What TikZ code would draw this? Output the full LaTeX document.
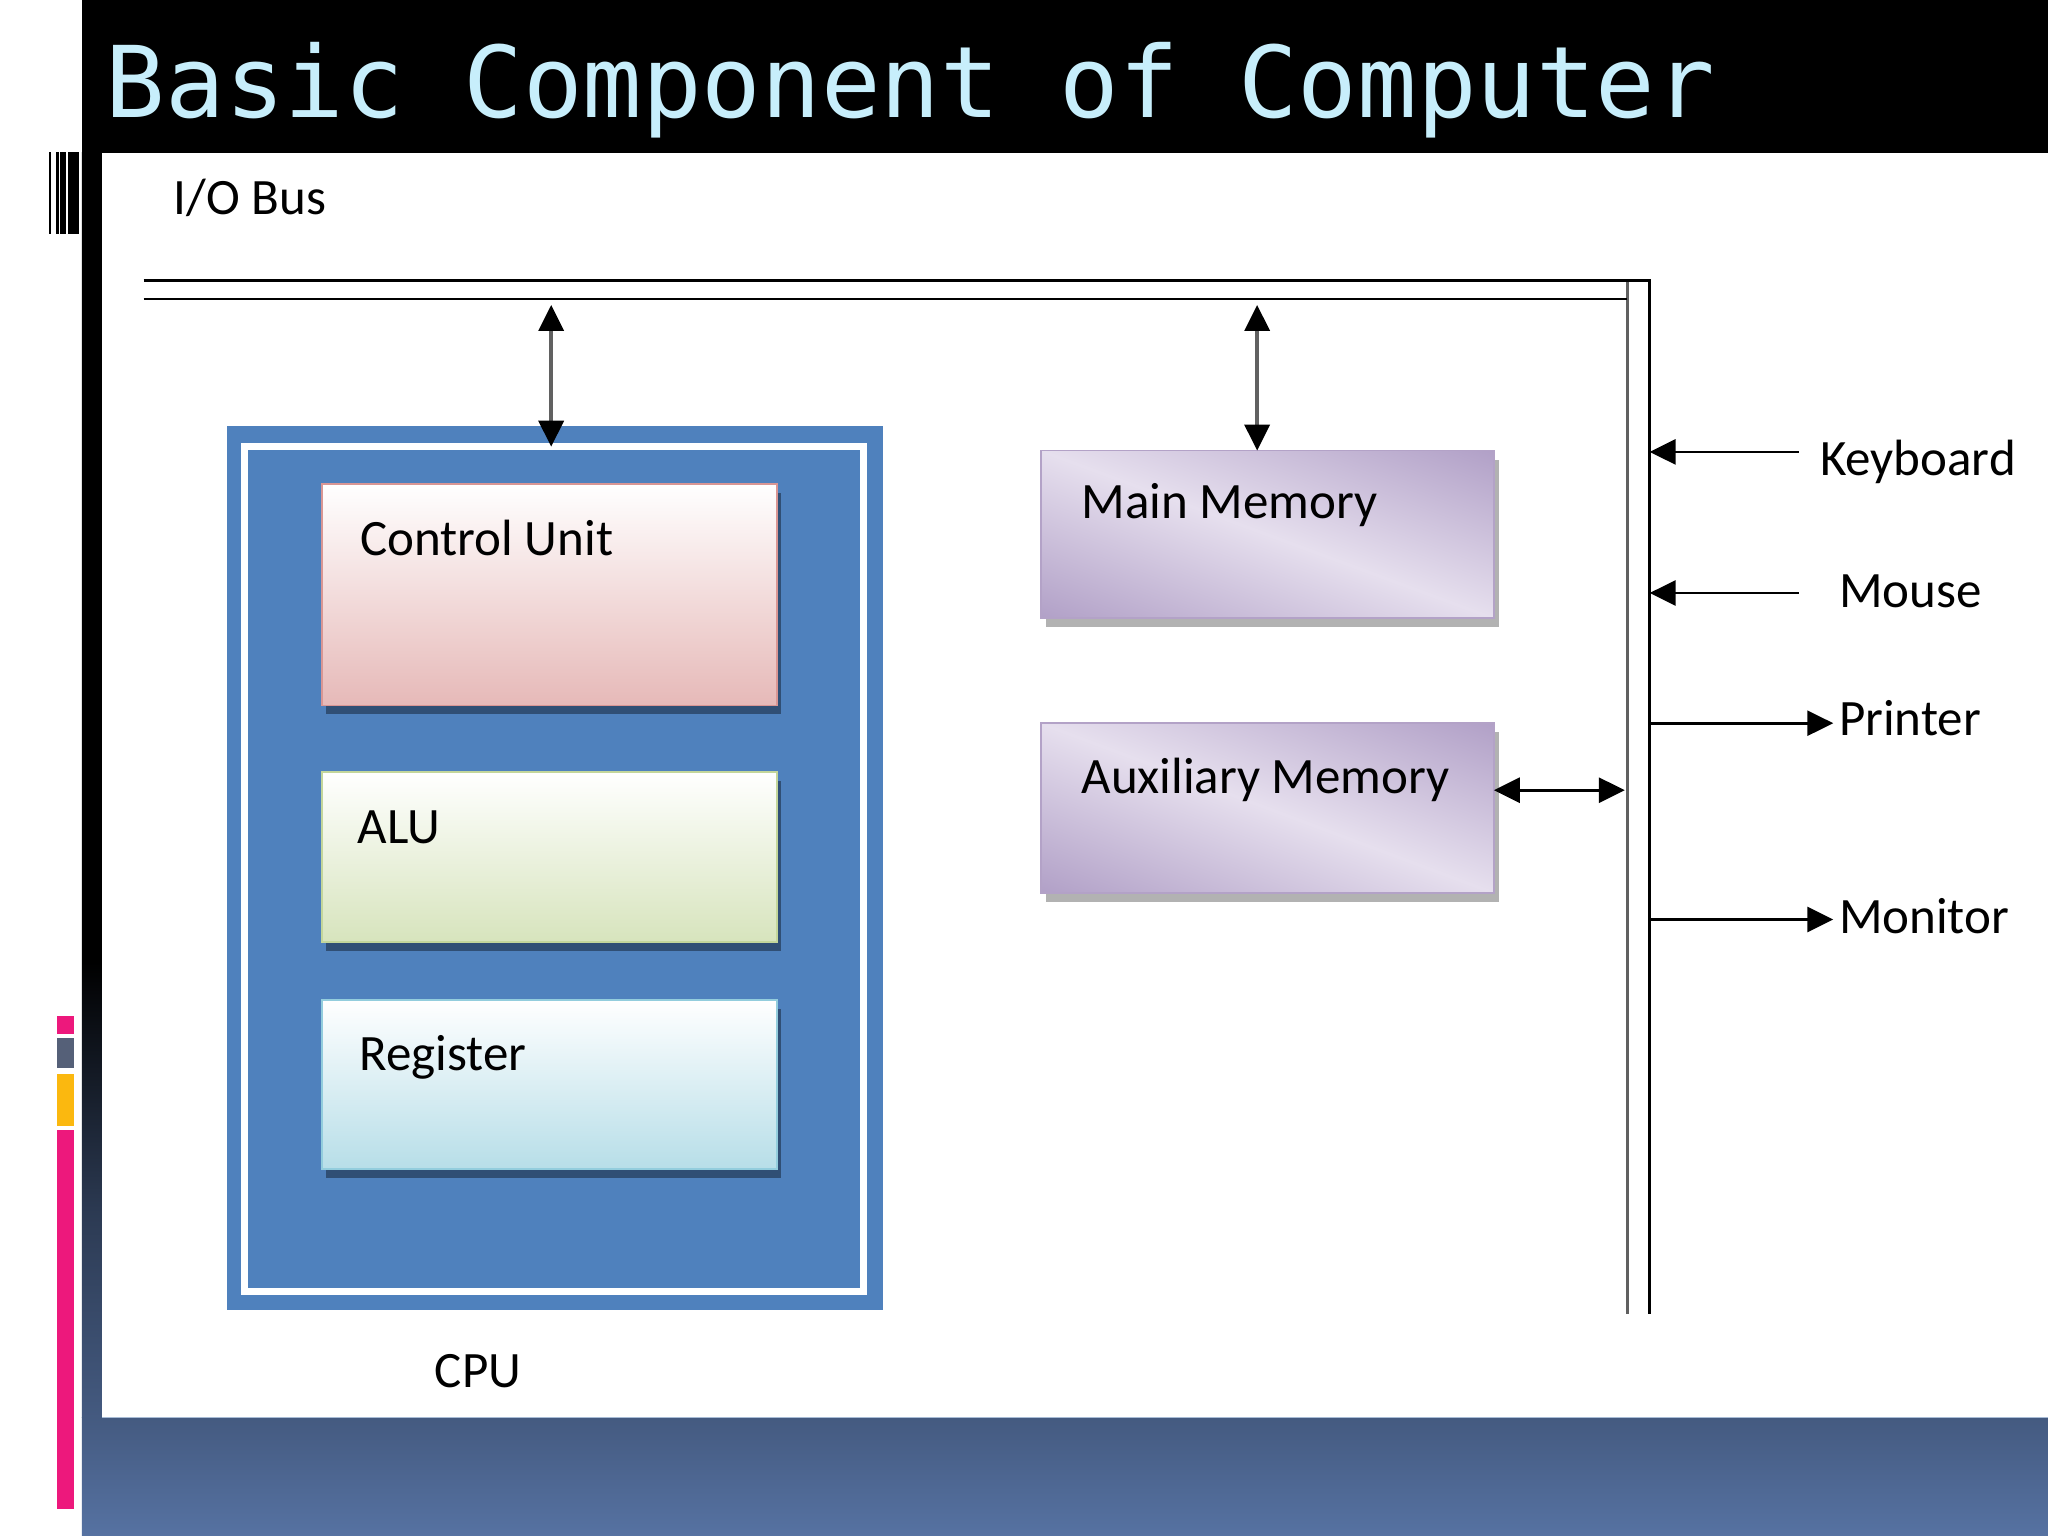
\documentclass[tikz,border=0pt]{standalone}
\usepackage{fontspec}
\setmainfont{Carlito}
\newfontfamily\titlefont{DejaVu Sans Mono}
\usetikzlibrary{arrows.meta,fit,shadows}

\definecolor{titlecyan}{HTML}{C7EEFB}
\definecolor{cpublue}{HTML}{4F81BD}
\definecolor{cupink}{HTML}{E6B9B8}
\definecolor{cuborder}{HTML}{D99694}
\definecolor{alugreen}{HTML}{D7E4BD}
\definecolor{aluborder}{HTML}{C3D69B}
\definecolor{regblue}{HTML}{B7DEE8}
\definecolor{regborder}{HTML}{93CDDD}
\definecolor{memborder}{HTML}{B3A2C7}
\definecolor{bandtop}{HTML}{445A80}
\definecolor{bandbot}{HTML}{5672A2}
\definecolor{bandline}{HTML}{A8BCD6}
\definecolor{barpink}{HTML}{ED187C}
\definecolor{bargray}{HTML}{556078}
\definecolor{baryellow}{HTML}{FBB80F}
\definecolor{innerbus}{HTML}{606060}

\pgfdeclareverticalshading{leftband}{100bp}{color(0bp)=(bandtop); color(25bp)=(bandtop); color(33bp)=(bandtop!65!black); color(43bp)=(black); color(75bp)=(black); color(100bp)=(black)}

\pgfdeclarefunctionalshading{memshade}{\pgfpointorigin}{\pgfpoint{100bp}{100bp}}{}{
  add 100 sub abs 50 div dup 1 gt {pop 1} if
  dup dup -0.208 mul 0.902 add 3 1 roll -0.248 mul 0.875 add exch -0.153 mul 0.933 add
}

\newcommand\lblfont{\fontsize{51}{60}\selectfont}

\tikzset{
  txt/.style={anchor=base west, inner sep=0pt, outer sep=0pt, font=\lblfont, text=black},
  boxbase/.style={inner sep=0pt, outer sep=0pt, line width=1.6pt},
  innershadow/.style={drop shadow={shadow xshift=4pt, shadow yshift=-9pt, fill=black, opacity=0.38}},
  outershadow/.style={drop shadow={shadow xshift=5pt, shadow yshift=-9pt, fill=black, opacity=0.3}},
  cubox/.style={boxbase, draw=cuborder, top color=white, bottom color=cupink, innershadow},
  alubox/.style={boxbase, draw=aluborder, top color=white, bottom color=alugreen, innershadow},
  regbox/.style={boxbase, draw=regborder, top color=white, bottom color=regblue, innershadow},
  membox/.style={boxbase, draw=memborder, shade, shading=memshade, outershadow},
  busline/.style={line width=2.6pt, black},
  dblarrow/.style={line width=3.6pt, {Triangle[length=26pt,width=25pt,color=black]}-{Triangle[length=26pt,width=25pt,color=black]}},
  inarrow/.style={line width=2.8pt, black, -{Triangle[length=26pt,width=25pt]}},
}

\begin{document}
\begin{tikzpicture}[x=1.30612pt,y=-1.30612pt]
\useasboundingbox (0,0) rectangle (1568,1176);
% background
\fill[white] (0,0) rectangle (1568,1176);
\fill[black] (62.6,0) rectangle (1568,117);
\shade[shading=leftband] (62.6,117) rectangle (78,1085);
\shade[top color=bandtop, bottom color=bandbot] (62.6,1085) rectangle (1568,1176);
\draw[bandline, line width=1.2pt] (78,1085) -- (1568,1085);

% barcode
\fill[black] (37.8,116.5) rectangle (39,179);
\fill[black] (43,116.5) rectangle (45,179);
\fill[black] (46,116.5) rectangle (50.8,179);
\fill[black] (52.3,116.5) rectangle (60.7,179);

% colour bars
\fill[barpink] (44,778) rectangle (56.6,791.5);
\fill[bargray] (44,795) rectangle (56.6,818);
\fill[baryellow] (44,822) rectangle (56.6,862);
\fill[barpink] (44,865) rectangle (56.6,1155);

% title
\node[anchor=base west, inner sep=0pt, text=titlecyan, font=\titlefont\fontsize{99}{110}\selectfont] (title) at (81,89.8) {Basic Component of Computer};

% I/O bus label
\node[txt] (iobus) at (133,164.6) {I/O Bus};

% bus
\coordinate (busL1) at (110,214.6);
\coordinate (busR1) at (1263,214.6);
\coordinate (busB1) at (1263,1006);
\coordinate (busL2) at (110,229);
\coordinate (busR2) at (1246,229);
\coordinate (busT2) at (1246,214.6);
\coordinate (busB2) at (1246,1006);
\draw[innerbus, line width=3.6pt] (busT2) -- (busB2);
\draw[busline] (busL1) -- (busR1) -- (busB1);
\draw[busline] (busL2) -- (busR2);

% CPU
\node[fill=cpublue, inner sep=0pt, outer sep=0pt, fit={(174,326) (676,1003)}] (cpu) {};
\node[draw=white, line width=7pt, inner sep=0pt, outer sep=0pt, fit={(187,342) (661,988.5)}] (cpuframe) {};
\node[cubox, fit={(246.4,370.6) (595,540)}] (cu) {};
\node[alubox, fit={(246.4,591) (595,721)}] (alu) {};
\node[regbox, fit={(246.4,765.6) (595,895)}] (reg) {};
\node[txt] (cutxt) at (276,425) {Control Unit};
\node[txt] (alutxt) at (274,645.6) {ALU};
\node[txt] (regtxt) at (275,819.8) {Register};
\node[txt] (cputxt) at (333,1062) {CPU};

% memories
\node[membox, fit={(797,345) (1143.7,473.3)}] (mm) {};
\node[membox, fit={(797,553.7) (1143.7,683.5)}] (aux) {};
\node[txt] (mmtxt) at (828,396.8) {Main Memory};
\node[txt] (auxtxt) at (828,607.4) {Auxiliary Memory};

% bus connectors
\coordinate (cpuBus) at (422,233.5);
\coordinate (mmBus) at (962.5,233.5);
\coordinate (auxBus) at (1244,605);
\draw[dblarrow, draw=black!62] (cpuBus) -- (cpuBus |- cpuframe.north);
\draw[dblarrow, draw=black!62] (mmBus) -- (mmBus |- mm.north);
\draw[dblarrow, draw=black, line width=3pt] (auxBus -| aux.east) -- (auxBus);

% I/O devices
\node[txt] (kbtxt) at (1393.5,364) {Keyboard};
\node[txt] (mousetxt) at (1408,465) {Mouse};
\node[txt] (prtxt) at (1408,563) {Printer};
\node[txt] (montxt) at (1408,714.6) {Monitor};
\coordinate (kbEnd) at (1377,346);
\coordinate (msEnd) at (1377,454);
\coordinate (prEnd) at (1403.6,553.7);
\coordinate (moEnd) at (1403.6,704);
\draw[inarrow] (kbEnd) -- (kbEnd -| busB1);
\draw[inarrow] (msEnd) -- (msEnd -| busB1);
\draw[inarrow] (prEnd -| busB1) -- (prEnd);
\draw[inarrow] (moEnd -| busB1) -- (moEnd);
\end{tikzpicture}
\end{document}
